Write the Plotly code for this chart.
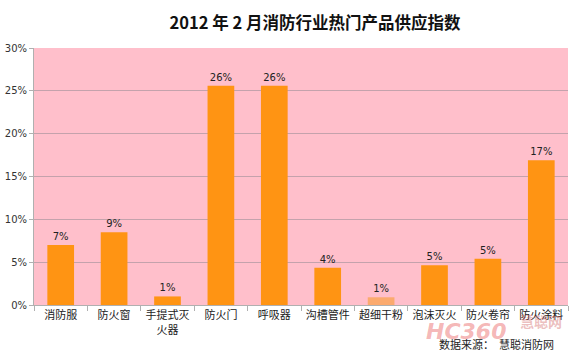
import plotly.graph_objects as go

categories = ["消防服", "防火窗", "手提式灭<br>火器", "防火门", "呼吸器", "沟槽管件", "超细干粉", "泡沫灭火", "防火卷帘", "防火涂料"]
values = [7.0, 8.5, 1.0, 25.6, 25.6, 4.35, 0.9, 4.65, 5.4, 16.9]
labels = ["7%", "9%", "1%", "26%", "26%", "4%", "1%", "5%", "5%", "17%"]
y_ticks = [0, 5, 10, 15, 20, 25, 30]
y_tick_text = ["0%", "5%", "10%", "15%", "20%", "25%", "30%"]

bar_colors = ["#FF9413"] * len(categories)
bar_colors[6] = "#FBAA6E"

font_family = "DejaVu Sans, Noto Sans CJK SC, sans-serif"

fig = go.Figure(go.Bar(
    x=categories,
    y=values,
    text=labels,
    textposition="outside",
    textfont=dict(size=10, color="#222222", family=font_family),
    marker=dict(color=bar_colors, line=dict(width=0)),
    width=0.5,
    cliponaxis=False,
))

fig.update_layout(
    width=580, height=357,
    margin=dict(l=34, r=12, t=48, b=52, autoexpand=False),
    paper_bgcolor="white",
    plot_bgcolor="#FFBFCB",
    showlegend=False,
    title=dict(
        text="<b>2012 年 2 月消防行业热门产品供应指数</b>",
        x=315 / 580, xanchor="center", y=1 - 23 / 357, yanchor="middle",
        xref="container", yref="container",
        font=dict(size=16.5, color="#111111", family="Noto Sans CJK SC, sans-serif"),
    ),
    xaxis=dict(
        type="category",
        automargin=False,
        showgrid=False,
        showline=True, linecolor="#B0B0B0", linewidth=1,
        ticks="outside", tickson="boundaries", ticklen=5, tickcolor="#B0B0B0",
        tickfont=dict(size=11, color="#222222", family="Noto Sans CJK SC, sans-serif"),
        tickangle=0,
    ),
    yaxis=dict(
        range=[0, 30],
        automargin=False,
        tickvals=y_ticks, ticktext=y_tick_text,
        showgrid=True, gridcolor="#C4A2AC", gridwidth=1,
        showline=True, linecolor="#B0B0B0", linewidth=1,
        ticks="outside", ticklen=4, tickcolor="#B0B0B0",
        tickfont=dict(size=10, color="#333333", family=font_family),
        zeroline=False,
    ),
    bargap=0.5,
)

fig.add_annotation(
    text="<b><i>HC360</i></b>", xref="paper", yref="paper",
    x=(466 - 34) / 534, y=-(331 - 305) / 257, xanchor="center", yanchor="middle", showarrow=False,
    font=dict(size=22, color="rgba(230,70,70,0.40)", family="DejaVu Sans, sans-serif"),
)
fig.add_annotation(
    text="<b>慧聪网</b>", xref="paper", yref="paper",
    x=(541 - 34) / 534, y=-(321 - 305) / 257, xanchor="center", yanchor="middle", showarrow=False,
    font=dict(size=14, color="rgba(200,70,70,0.35)", family="Noto Sans CJK SC, sans-serif"),
)
fig.add_annotation(
    text="数据来源：  慧聪消防网", xref="paper", yref="paper",
    x=(496 - 34) / 534, y=-(344 - 305) / 257, xanchor="center", yanchor="middle", showarrow=False,
    font=dict(size=11, color="#222222", family="Noto Sans CJK SC, sans-serif"),
)

fig.write_html("out.html", config={"displayModeBar": False},
               post_script="document.body.style.margin='0';")
